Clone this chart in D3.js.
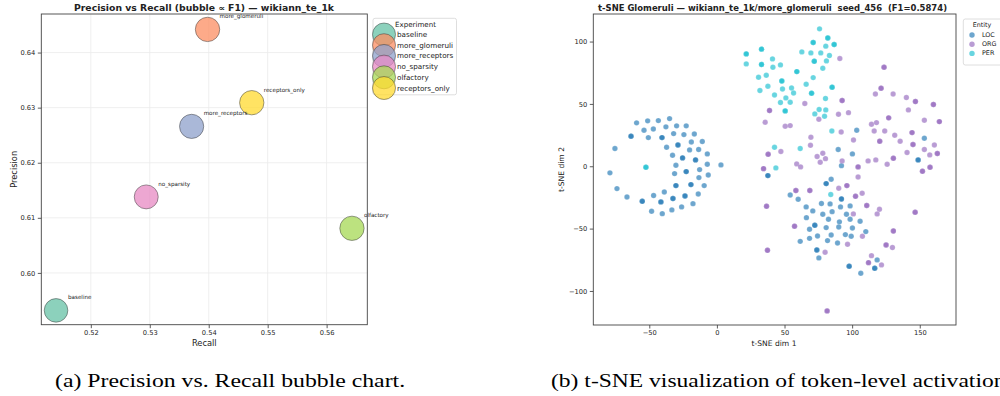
<!DOCTYPE html>
<html>
<head>
<meta charset="utf-8">
<script src="https://cdn.jsdelivr.net/npm/d3@7/dist/d3.min.js"></script>
<style>
  body { margin: 0; background: #fff; }
  svg text { font-family: "DejaVu Sans", sans-serif; fill: #222; }
  svg text.caption { font-family: "Liberation Serif", "Times New Roman", serif; fill: #000; }
</style>
</head>
<body>
<svg id="fig" width="1000" height="396"></svg>
<script>
// ---- bubble chart data (a) ----
const experiments = ['baseline', 'more_glomeruli', 'more_receptors', 'no_sparsity', 'olfactory', 'receptors_only'];
const recall = [0.5141, 0.5398, 0.5371, 0.5294, 0.5643, 0.5473];
const precision = [0.5932, 0.6442, 0.6266, 0.6138, 0.6081, 0.6309];
const f1 = [0.5508, 0.5874, 0.5784, 0.5685, 0.5854, 0.5861];
const bubbleColors = ['#66c2a5', '#fc8d62', '#8da0cb', '#e78ac3', '#a6d854', '#ffd92f'];
const recallTicks = [0.52, 0.53, 0.54, 0.55, 0.56];
const precisionTicks = [0.60, 0.61, 0.62, 0.63, 0.64];

// ---- t-SNE data (b): [dim1, dim2, overlapping count] ----
const entities = ['LOC', 'ORG', 'PER'];
const locPoints = [
  [-59.4,34.8,1],[-51.2,36.4,1],[-43.3,36.6,1],[-35,38.2,1],[-53.9,28.9,1],[-47,29.9,1],[-37.7,31.6,1],
  [-29.8,32.4,1],[-22.7,32.4,1],[-63.5,24.1,2],[-50.7,23,1],[-40.6,23,2],[-32,26.2,1],[-24.4,25.4,1],
  [-16.7,25.9,1],[-75.4,14.2,1],[-37.2,15.2,1],[-28.8,17.1,2],[-18.9,19.5,1],[-10.8,19.8,1],[-20.2,13.1,1],
  [-13.5,13.4,1],[-32.8,8.8,1],[-25.4,6.7,2],[-15.8,5.1,2],[-7.1,9.9,1],[-30.3,0.8,1],[-7.1,1.6,1],[3,1.1,1],
  [-79.1,-5.3,1],[-12.8,-2.7,1],[-22.7,-4.3,2],[-31.3,-5.9,1],[-6.4,-7,1],[-13.3,-9.1,1],[-73.9,-17.9,1],
  [-30.3,-15.5,2],[-19.2,-14.7,2],[-9.4,-15.5,1],[-38.9,-20.6,1],[-46.8,-23.5,1],[-66.5,-24.6,1],[-13.8,-22.2,1],
  [-23.6,-23.8,2],[-32.5,-25.9,2],[-55.2,-28.1,2],[-41.4,-28.6,2],[-17.7,-30,1],[-26.1,-32.6,1],[-33.3,-35,1],
  [-48.3,-36.1,1],[-40.4,-38,1],
  [103.4,28.9,1],[89.7,13.4,1],[100.2,9.9,1],[92.1,0.5,1],[37.7,-7.5,2],[80.8,-13.9,2],[84.5,-10.4,1],
  [92.1,-26.2,2],[153.4,22.5,1],[148.8,5.1,2],
  [54.2,-23,1],[60.1,-26.5,1],[66,-32.6,1],[77.3,-29.9,1],[83.7,-30.2,1],[91.4,-32.6,1],[98.5,-31.8,1],
  [70.9,-35.8,1],[78.3,-38.5,1],[85.2,-36.4,1],[95.8,-38.5,1],[66.2,-41.2,1],[82.5,-42.5,1],[98.5,-42.5,1],
  [105.9,-44.1,1],[90.6,-44.6,1],[72.4,-47.3,2],[68.5,-50.5,1],[80.8,-49.2,1],[90.1,-48.7,1],[100.2,-49.5,1],
  [110.1,-52.4,1],[61.6,-60.2,1],[68.5,-57.8,1],[74.4,-55.9,1],[84.5,-55.1,1],[95,-54.8,1],[99.3,-56.1,1],
  [81.8,-59.6,1],[89.2,-61.5,1],[73.9,-67.1,2],[75.4,-73.5,1],[118.5,-75.1,1],[97.8,-80.2,2],[116.7,-81.8,2],
  [106.4,-85.8,1]
];
const orgPoints = [
  [38.9,44.7,2],[35.7,35.3,1],[50.5,32.1,1],[54.2,32.6,1],[90.9,86.4,1],[65,50.3,1],[75.4,37.7,1],[92.6,52.7,2],
  [89.9,41.7,1],[97.3,43,1],[91.9,27.5,1],[101,21.1,1],[92.6,4.3,1],[104.4,-0.5,2],[104.4,-8.6,1],[69.5,23.3,1],
  [69.2,16.8,1],[74.1,7.8,1],[78.3,10.4,1],[80.3,6.1,1],[76.4,3.2,1],[59,1.9,1],[61.9,-0.5,1],[37.9,9.6,2],
  [47.3,11.8,1],[34.5,-1.9,2],
  [123.6,79.4,2],[121.4,62.6,2],[117.2,58,1],[130.3,58,1],[140.1,55.1,1],[146.8,51.9,2],[160.1,49.5,2],
  [141.6,45.2,1],[127,38.8,2],[114.3,33.7,1],[118,35,1],[153.4,36.9,1],[164.5,35.8,2],[116.3,28.3,1],
  [124.1,28.3,1],[131.5,24.9,1],[144.3,27,2],[120.4,20.1,2],[135.5,20.1,1],[145,17.4,2],[160.8,17.1,1],
  [140.6,11,1],[153.4,13.4,1],[157.4,9.1,1],[163,10.2,2],[130.5,6.4,2],[117.5,5.1,1],[111.8,4.3,1],
  [125.9,1.6,1],[157.6,-0.8,2],[152,-4,2],
  [58.4,-19.5,2],[68.7,-19.5,2],[90.1,-17.6,1],[96.1,-15.5,2],[102.5,-24.1,2],[107.4,-21.6,1],[36.7,-32.1,2],
  [110.8,-31.5,2],[120.2,-34.5,1],[118.5,-38.2,1],[100.9,-38.2,1],[146.6,-36.9,2],[57.4,-48.1,2],
  [130.5,-51.9,2],[107.6,-56.1,1],[96.6,-62.6,1],[125.1,-63.1,2],[129.8,-65.2,1],[37.4,-67.4,2],[80,-69,1],
  [114.3,-71.7,1],[112.1,-77.3,2],[121.7,-79.1,1],[81.5,-116,2]
];
const perPoints = [
  [21.7,90.1,2],[21.7,82.1,1],[33,93.9,2],[33,81.6,2],[41.1,86.1,1],[47,81.3,1],[41.4,79.4,1],[30.8,71.4,1],
  [36.5,73,1],[48,68.4,2],[31.8,60.7,1],[37.7,64.2,1],[48.5,62,1],[55.2,62.8,1],[56.7,58.8,1],[42.6,57.2,1],
  [51,54.8,1],[47,51.1,1],[54.2,51.3,1],[50.5,44.4,2],[75.9,110.2,1],[82,102.9,2],[71.2,99.2,2],[80.5,96.3,1],
  [86.7,97.6,2],[62.8,91.7,1],[69.5,90.9,1],[76.8,90.9,1],[83.2,88.8,1],[72,84.2,2],[81,84.5,1],[59.1,75.9,2],
  [78.3,78.6,1],[71.2,71.1,1],[66,65.8,1],[85.2,63.4,2],[70,58.6,2],[80.3,54.3,1],[75.6,45.5,1],[80.5,45.2,1],
  [72.4,42,1],[79.6,40.1,1],[85,28.3,1],[42.6,15.2,1],[61.6,14.2,1],[43.6,-1.3,1],[-52.5,-0.8,2],[84.2,-22.7,1]
];
const entityColors = ['#1f77b4', '#9467bd', '#17becf'];
const dimTicks = [-50, 0, 50, 100, 150];
const dim2Ticks = [-100, -50, 0, 50, 100];

const svg = d3.select('#fig');

function styleAxis(g) {
  g.select('.domain').remove();
  g.selectAll('.tick line').attr('stroke', '#333').attr('stroke-width', 0.8);
  g.selectAll('.tick text').attr('font-size', 6.7).attr('fill', '#333');
}

// ===================== (a) bubble chart =====================
const A = {left: 41.3, right: 367.3, top: 14, bottom: 324.7};
const xA = d3.scaleLinear().domain([0.5116, 0.5669]).range([A.left, A.right]);
const yA = d3.scaleLinear().domain([0.5906, 0.6470]).range([A.bottom, A.top]);
const rA = d3.scaleSqrt().domain([0, 1]).range([0, 15.9]);

// grid
svg.append('g').selectAll('line').data(recallTicks).join('line')
  .attr('x1', d => xA(d)).attr('x2', d => xA(d)).attr('y1', A.top).attr('y2', A.bottom)
  .attr('stroke', '#ebebeb').attr('stroke-width', 0.8);
svg.append('g').selectAll('line').data(precisionTicks).join('line')
  .attr('y1', d => yA(d)).attr('y2', d => yA(d)).attr('x1', A.left).attr('x2', A.right)
  .attr('stroke', '#ebebeb').attr('stroke-width', 0.8);

svg.append('g').attr('transform', `translate(0,${A.bottom})`)
  .call(d3.axisBottom(xA).tickValues(recallTicks).tickFormat(d3.format('.2f')).tickSize(3.5).tickPadding(2))
  .call(styleAxis);
svg.append('g').attr('transform', `translate(${A.left},0)`)
  .call(d3.axisLeft(yA).tickValues(precisionTicks).tickFormat(d3.format('.2f')).tickSize(3.5).tickPadding(2.5))
  .call(styleAxis);

const bubbles = experiments.map((name, i) => ({name, r: recall[i], p: precision[i], f: f1[i], c: bubbleColors[i]}));
svg.append('g').selectAll('circle').data(bubbles).join('circle')
  .attr('cx', d => xA(d.r)).attr('cy', d => yA(d.p)).attr('r', d => rA(d.f))
  .attr('fill', d => d.c).attr('fill-opacity', 0.75)
  .attr('stroke', '#333').attr('stroke-opacity', 0.6).attr('stroke-width', 0.8);
svg.append('g').selectAll('text').data(bubbles).join('text')
  .attr('x', d => xA(d.r) + 12).attr('y', d => yA(d.p) - 13)
  .attr('dominant-baseline', 'central').attr('font-size', 5.6).attr('fill', '#333')
  .text(d => d.name);

svg.append('rect').attr('x', A.left).attr('y', A.top)
  .attr('width', A.right - A.left).attr('height', A.bottom - A.top)
  .attr('fill', 'none').attr('stroke', '#444').attr('stroke-width', 0.9);

svg.append('text').attr('x', 204).attr('y', 7.5)
  .attr('text-anchor', 'middle').attr('dominant-baseline', 'central')
  .attr('font-size', 8.6).attr('font-weight', 'bold').attr('fill', '#000')
  .attr('textLength', 260).attr('lengthAdjust', 'spacingAndGlyphs')
  .text('Precision vs Recall (bubble \u221d F1) \u2014 wikiann_te_1k');
svg.append('text').attr('x', (A.left + A.right) / 2).attr('y', 343)
  .attr('text-anchor', 'middle').attr('dominant-baseline', 'central').attr('font-size', 8.3)
  .text('Recall');
svg.append('text').attr('transform', `translate(13.5,${(A.top + A.bottom) / 2}) rotate(-90)`)
  .attr('text-anchor', 'middle').attr('dominant-baseline', 'central').attr('font-size', 8.3)
  .text('Precision');

// legend (a)
const legA = svg.append('g');
legA.append('rect').attr('x', 373).attr('y', 18.3).attr('width', 83.5).attr('height', 76.5).attr('rx', 2)
  .attr('fill', '#fff').attr('fill-opacity', 0.8).attr('stroke', '#d6d6d6').attr('stroke-width', 0.8);
legA.append('text').attr('x', 395).attr('y', 24.5).attr('dominant-baseline', 'central')
  .attr('font-size', 7.1).text('Experiment');
const legRowsA = legA.selectAll('g.row').data(bubbles).join('g').attr('class', 'row')
  .attr('transform', (d, i) => `translate(0,${34.5 + i * 10.7})`);
legRowsA.append('circle').attr('cx', 384).attr('cy', 0).attr('r', 11.5)
  .attr('fill', d => d.c).attr('fill-opacity', 0.75)
  .attr('stroke', '#333').attr('stroke-opacity', 0.6).attr('stroke-width', 0.8);
legRowsA.append('text').attr('x', 397).attr('y', 0).attr('dominant-baseline', 'central')
  .attr('font-size', 7.2).text(d => d.name);

// ===================== (b) t-SNE scatter =====================
const B = {left: 593.3, right: 956, top: 14, bottom: 325};
const xB = d3.scaleLinear().domain([-91.4, 176.8]).range([B.left, B.right]);
const yB = d3.scaleLinear().domain([-127.3, 122.1]).range([B.bottom, B.top]);

svg.append('g').attr('transform', `translate(0,${B.bottom})`)
  .call(d3.axisBottom(xB).tickValues(dimTicks).tickSize(3.5).tickPadding(2))
  .call(styleAxis);
svg.append('g').attr('transform', `translate(${B.left},0)`)
  .call(d3.axisLeft(yB).tickValues(dim2Ticks).tickSize(3.5).tickPadding(2.5))
  .call(styleAxis);

const groups = [locPoints, orgPoints, perPoints];
const pts = groups.flatMap((arr, gi) =>
  arr.flatMap(p => d3.range(p[2]).map(() => ({x: p[0], y: p[1], c: entityColors[gi]}))));
svg.append('g').selectAll('circle').data(pts).join('circle')
  .attr('cx', d => xB(d.x)).attr('cy', d => yB(d.y)).attr('r', 2.7)
  .attr('fill', d => d.c).attr('fill-opacity', 0.65)
  .attr('stroke', '#fff').attr('stroke-opacity', 0.4).attr('stroke-width', 0.4);

svg.append('rect').attr('x', B.left).attr('y', B.top)
  .attr('width', B.right - B.left).attr('height', B.bottom - B.top)
  .attr('fill', 'none').attr('stroke', '#444').attr('stroke-width', 0.9);

svg.append('text').attr('x', 772.5).attr('y', 7.5)
  .attr('text-anchor', 'middle').attr('dominant-baseline', 'central')
  .attr('font-size', 8.4).attr('font-weight', 'bold').attr('fill', '#000')
  .attr('textLength', 349).attr('lengthAdjust', 'spacingAndGlyphs')
  .style('white-space', 'pre')
  .text('t-SNE Glomeruli \u2014 wikiann_te_1k/more_glomeruli\u00a0 seed_456\u00a0 (F1=0.5874)');
svg.append('text').attr('x', 774).attr('y', 343.3)
  .attr('text-anchor', 'middle').attr('dominant-baseline', 'central').attr('font-size', 7.6)
  .text('t-SNE dim 1');
svg.append('text').attr('transform', `translate(561.7,${(B.top + B.bottom) / 2}) rotate(-90)`)
  .attr('text-anchor', 'middle').attr('dominant-baseline', 'central').attr('font-size', 7.6)
  .text('t-SNE dim 2');

// legend (b)
const legB = svg.append('g');
legB.append('rect').attr('x', 963.3).attr('y', 19).attr('width', 50).attr('height', 46).attr('rx', 2)
  .attr('fill', '#fff').attr('stroke', '#d6d6d6').attr('stroke-width', 0.8);
legB.append('text').attr('x', 982).attr('y', 25).attr('text-anchor', 'middle').attr('dominant-baseline', 'central')
  .attr('font-size', 6.4).text('Entity');
const legRowsB = legB.selectAll('g.row').data(entities).join('g').attr('class', 'row')
  .attr('transform', (d, i) => `translate(0,${35 + i * 9.2})`);
legRowsB.append('circle').attr('cx', 972).attr('cy', 0).attr('r', 2.7)
  .attr('fill', (d, i) => entityColors[i]).attr('fill-opacity', 0.65);
legRowsB.append('text').attr('x', 982).attr('y', 0).attr('dominant-baseline', 'central')
  .attr('font-size', 6.4).text(d => d);

// ===================== captions =====================
svg.append('text').attr('class', 'caption')
  .attr('transform', 'translate(55,387) scale(1.25,1)')
  .attr('font-size', 19)
  .text('(a) Precision vs. Recall bubble chart.');
svg.append('text').attr('class', 'caption')
  .attr('transform', 'translate(551,387) scale(1.24,1)')
  .attr('font-size', 19)
  .text('(b) t-SNE visualization of token-level activations.');
</script>
</body>
</html>
